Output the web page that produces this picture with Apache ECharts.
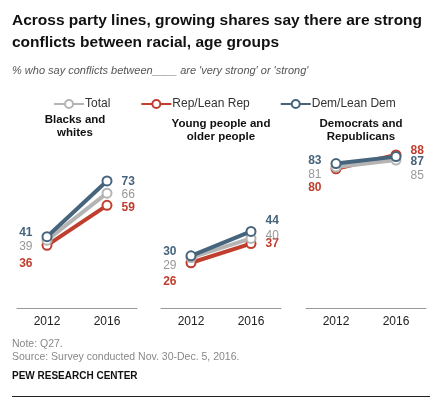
<!DOCTYPE html>
<html><head><meta charset="utf-8">
<script src="https://cdn.jsdelivr.net/npm/echarts@6/dist/echarts.min.js"></script>
<style>html,body{margin:0;padding:0;background:#fff}#c{width:447px;height:405px}</style>
</head><body><div id="c"></div>
<script>
var years = ['2012', '2016'];
var panelTitles = ['Blacks and\nwhites', 'Young people and\nolder people', 'Democrats and\nRepublicans'];
var totalVals = [[39, 66], [29, 40], [81, 85]];
var repVals = [[36, 59], [26, 37], [80, 88]];
var demVals = [[41, 73], [30, 44], [83, 87]];

// label nudges (px) so the stacked numbers don't collide
var nudge = {
  Total: [[7, 2], [8, -3], [8, 16]],
  Rep: [[18, 2], [19, 0], [19, -4]],
  Dem: [[-4, 1], [-4, -11], [-3, 5]]
};

var colors = { Total: '#b4b4b4', Rep: '#bf3e2e', Dem: '#46647c' };
var names = { Total: 'Total', Rep: 'Rep/Lean Rep', Dem: 'Dem/Lean Dem' };
var font = 'Liberation Sans';

var chart = echarts.init(document.getElementById('c'));
var grids = [], xAxes = [], yAxes = [], series = [];
var lefts = [17, 161, 306];
var titleX = [75, 221, 361];
var titleY = [113, 117, 117];
var graphics = [];

for (var p = 0; p < 3; p++) {
  grids.push({ left: lefts[p], width: 120, top: 134, height: 174 });
  xAxes.push({
    gridIndex: p, type: 'category', data: years, boundaryGap: true,
    axisLine: { lineStyle: { color: '#999', width: 1 } }, axisTick: { show: false },
    axisLabel: { color: '#222', fontSize: 12, fontFamily: font, margin: 8 }
  });
  yAxes.push({ gridIndex: p, type: 'value', min: 0, max: 100, show: false, splitLine: { show: false } });
  graphics.push({ type: 'text', x: titleX[p], y: titleY[p], style: { text: panelTitles[p], font: 'bold 11.5px "Liberation Sans"', fill: '#111', align: 'center', lineHeight: 13 } });
  [['Total', totalVals], ['Rep', repVals], ['Dem', demVals]].forEach(function (s) {
    var key = s[0], vals = s[1][p];
    series.push({
      name: names[key], type: 'line', xAxisIndex: p, yAxisIndex: p,
      z: key === 'Total' ? 3 : (key === 'Rep' ? 2 : 4),
      symbol: 'circle', symbolSize: 9, animation: false,
      lineStyle: { color: colors[key], width: 4 },
      itemStyle: { color: '#fff', borderColor: colors[key], borderWidth: 2 },
      data: vals.map(function (v, i) {
        return {
          value: v,
          label: {
            show: true, position: i === 0 ? 'left' : 'right', distance: 9,
            offset: [0, nudge[key][p][i]],
            color: key === 'Total' ? '#999' : colors[key],
            fontWeight: key === 'Total' ? 'normal' : 'bold',
            fontSize: 12, fontFamily: font
          }
        };
      })
    });
  });
}

chart.setOption({
  backgroundColor: '#fff',
  textStyle: { fontFamily: font },
  legend: {
    top: 93, left: 48, itemGap: 30, itemWidth: 30, itemHeight: 10,
    data: [names.Total, names.Rep, names.Dem],
    textStyle: { fontSize: 12, color: '#333', fontFamily: font, padding: [0, 0, 0, -4] }
  },
  grid: grids, xAxis: xAxes, yAxis: yAxes, series: series,
  graphic: graphics.concat([
    { type: 'text', left: 12, top: 10, style: { text: 'Across party lines, growing shares say there are strong\nconflicts between racial, age groups', font: 'bold 15.5px "Liberation Sans"', fill: '#111', lineHeight: 22 } },
    { type: 'text', left: 12, top: 65, style: { text: "% who say conflicts between____ are 'very strong' or 'strong'", font: 'italic 11px "Liberation Sans"', fill: '#555' } },
    { type: 'text', left: 12, top: 338, style: { text: 'Note: Q27.\nSource: Survey conducted Nov. 30-Dec. 5, 2016.', font: '10.5px "Liberation Sans"', fill: '#888', lineHeight: 13 } },
    { type: 'text', left: 12, top: 371, style: { text: 'PEW RESEARCH CENTER', font: 'bold 10px "Liberation Sans"', fill: '#111' } },
    { type: 'rect', shape: { x: 12, y: 396, width: 418, height: 1 }, style: { fill: '#222' } }
  ])
});
</script></body></html>
